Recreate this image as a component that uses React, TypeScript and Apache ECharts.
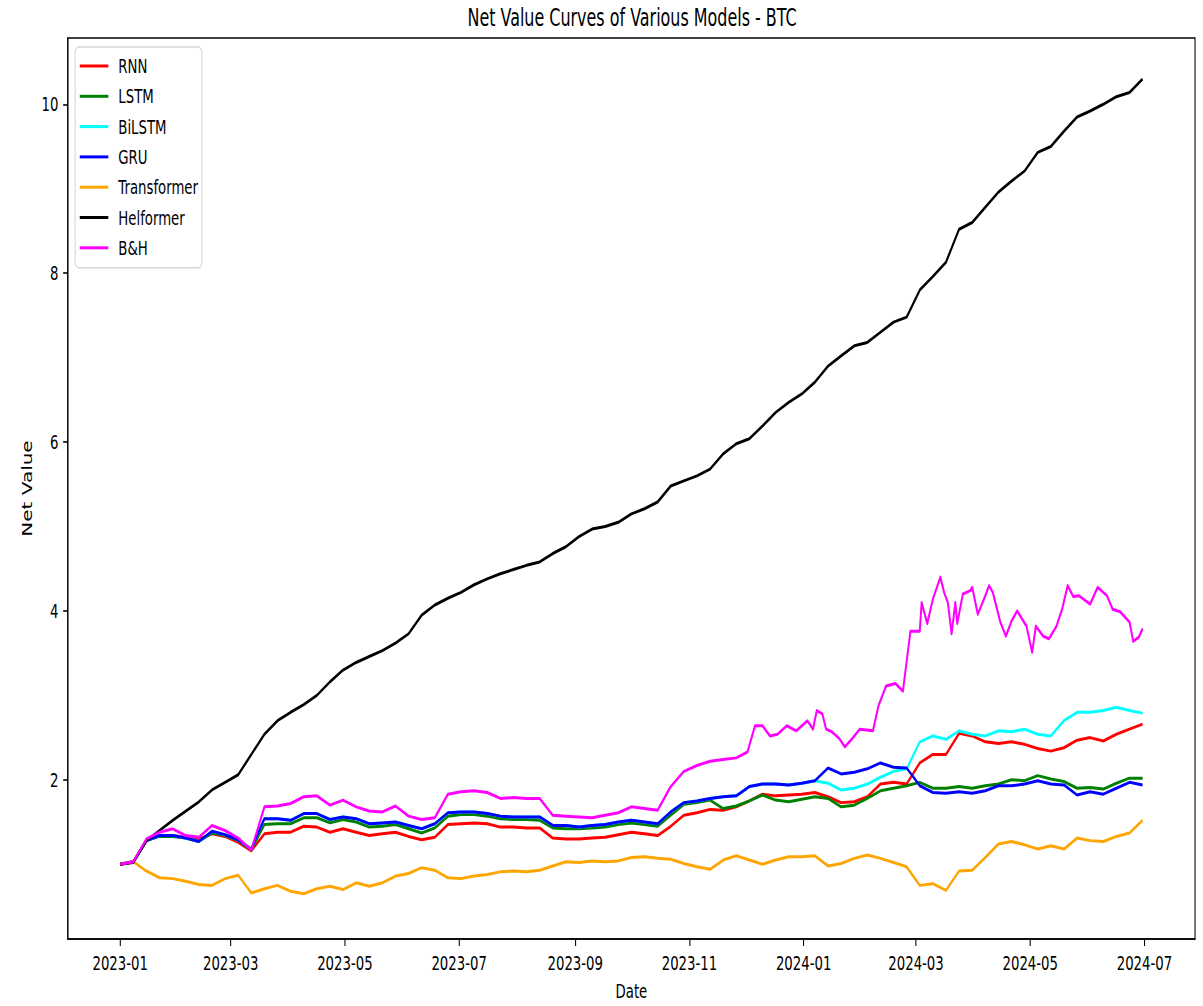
import React, { useEffect, useRef } from "react";
import * as echarts from "echarts";

// ---------- data ----------
const TITLE = "Net Value Curves of Various Models - BTC";
const SERIES_NAMES = ["RNN", "LSTM", "BiLSTM", "GRU", "Transformer", "Helformer", "B&H"];
const COLORS = ["#ff0000", "#008000", "#00ffff", "#0000ff", "#ffa500", "#000000", "#ff00ff"];
const Y_TICKS = [2, 4, 6, 8, 10];
const X_TICK_MONTHS = ["01", "03", "05", "07", "09", "11"];
const Y_MIN = 0.115;
const Y_MAX = 10.785;

// weekly samples: 2023-01-01, 2023-01-08, ... 2024-06-30 (79 points)
const DAY = 86400000;
const isoDay = (ms: number) => new Date(ms).toISOString().slice(0, 10);
const weeklyDates: string[] = Array.from({ length: 79 }, (_, k) => isoDay(Date.UTC(2023, 0, 1) + 7 * k * DAY));

const rnn = [1.00, 1.03, 1.28, 1.34, 1.34, 1.32, 1.30, 1.36, 1.33, 1.26,
  1.16, 1.36, 1.38, 1.38, 1.45, 1.44, 1.38, 1.42, 1.38, 1.34,
  1.36, 1.38, 1.33, 1.29, 1.32, 1.47, 1.48, 1.49, 1.48, 1.44,
  1.44, 1.43, 1.43, 1.31, 1.30, 1.30, 1.31, 1.32, 1.35, 1.38,
  1.36, 1.34, 1.45, 1.58, 1.61, 1.65, 1.64, 1.68, 1.75, 1.83,
  1.81, 1.82, 1.83, 1.85, 1.80, 1.73, 1.74, 1.80, 1.95, 1.97,
  1.95, 2.20, 2.30, 2.30, 2.55, 2.52, 2.45, 2.43, 2.45, 2.42,
  2.37, 2.34, 2.38, 2.47, 2.50, 2.46, 2.54, 2.60, 2.66];

const lstm = [1.00, 1.03, 1.28, 1.33, 1.33, 1.31, 1.27, 1.37, 1.34, 1.28,
  1.17, 1.47, 1.48, 1.48, 1.55, 1.55, 1.49, 1.53, 1.50, 1.44,
  1.45, 1.47, 1.42, 1.37, 1.43, 1.57, 1.59, 1.59, 1.57, 1.54,
  1.53, 1.53, 1.52, 1.43, 1.42, 1.42, 1.43, 1.44, 1.47, 1.49,
  1.47, 1.45, 1.58, 1.71, 1.73, 1.76, 1.66, 1.69, 1.75, 1.82,
  1.76, 1.74, 1.77, 1.80, 1.78, 1.68, 1.70, 1.78, 1.87, 1.90,
  1.93, 1.97, 1.90, 1.90, 1.92, 1.90, 1.93, 1.95, 2.00, 1.99,
  2.05, 2.01, 1.98, 1.90, 1.91, 1.89, 1.96, 2.02, 2.02];

const bilstm = [1.00, 1.03, 1.28, 1.34, 1.34, 1.31, 1.27, 1.39, 1.35, 1.29,
  1.18, 1.54, 1.54, 1.52, 1.60, 1.60, 1.53, 1.56, 1.54, 1.48,
  1.49, 1.50, 1.46, 1.42, 1.48, 1.61, 1.62, 1.62, 1.60, 1.57,
  1.56, 1.56, 1.56, 1.46, 1.46, 1.44, 1.46, 1.47, 1.50, 1.52,
  1.50, 1.48, 1.62, 1.73, 1.75, 1.78, 1.80, 1.81, 1.92, 1.95,
  1.95, 1.94, 1.96, 1.99, 1.96, 1.88, 1.90, 1.95, 2.03, 2.10,
  2.13, 2.45, 2.52, 2.48, 2.58, 2.54, 2.52, 2.58, 2.57, 2.60,
  2.54, 2.52, 2.70, 2.80, 2.80, 2.82, 2.86, 2.82, 2.79];

const gru = [1.00, 1.03, 1.28, 1.34, 1.34, 1.31, 1.27, 1.39, 1.35, 1.29,
  1.18, 1.54, 1.54, 1.52, 1.60, 1.60, 1.53, 1.56, 1.54, 1.48,
  1.49, 1.50, 1.46, 1.42, 1.48, 1.61, 1.62, 1.62, 1.60, 1.57,
  1.56, 1.56, 1.56, 1.46, 1.46, 1.44, 1.46, 1.47, 1.50, 1.52,
  1.50, 1.48, 1.62, 1.73, 1.75, 1.78, 1.80, 1.81, 1.92, 1.95,
  1.95, 1.94, 1.96, 1.99, 2.14, 2.07, 2.09, 2.13, 2.20, 2.15,
  2.14, 1.93, 1.85, 1.84, 1.86, 1.84, 1.87, 1.93, 1.93, 1.95,
  1.99, 1.95, 1.94, 1.82, 1.86, 1.83, 1.90, 1.97, 1.94];

const transformer = [1.00, 1.03, 0.92, 0.84, 0.83, 0.80, 0.76, 0.75, 0.83, 0.87,
  0.66, 0.71, 0.75, 0.68, 0.65, 0.71, 0.74, 0.70, 0.78, 0.74,
  0.78, 0.86, 0.89, 0.96, 0.93, 0.84, 0.83, 0.86, 0.88, 0.91,
  0.92, 0.91, 0.93, 0.98, 1.03, 1.02, 1.04, 1.03, 1.04, 1.08,
  1.09, 1.07, 1.06, 1.01, 0.97, 0.94, 1.05, 1.10, 1.05, 1.00,
  1.05, 1.09, 1.09, 1.10, 0.98, 1.01, 1.07, 1.11, 1.07, 1.02,
  0.97, 0.75, 0.77, 0.69, 0.92, 0.93, 1.08, 1.24, 1.27, 1.23,
  1.18, 1.22, 1.18, 1.31, 1.28, 1.27, 1.33, 1.37, 1.52];

const helformer = [1.00, 1.02, 1.28, 1.40, 1.52, 1.63, 1.74, 1.88, 1.97, 2.06,
  2.30, 2.54, 2.70, 2.80, 2.89, 3.00, 3.16, 3.30, 3.39, 3.46,
  3.53, 3.62, 3.73, 3.95, 4.07, 4.15, 4.22, 4.31, 4.38, 4.44,
  4.49, 4.54, 4.58, 4.68, 4.76, 4.88, 4.97, 5.00, 5.05, 5.15,
  5.21, 5.29, 5.48, 5.54, 5.60, 5.68, 5.86, 5.98, 6.04, 6.19,
  6.35, 6.47, 6.57, 6.71, 6.90, 7.02, 7.14, 7.18, 7.30, 7.42,
  7.48, 7.80, 7.96, 8.13, 8.52, 8.60, 8.78, 8.96, 9.09, 9.21,
  9.43, 9.50, 9.68, 9.85, 9.92, 10.00, 10.09, 10.14, 10.30];

// B&H: weekly up to late Nov 2023, then denser readings
const bhWeekly = [1.00, 1.03, 1.30, 1.38, 1.42, 1.34, 1.32, 1.46, 1.40, 1.31,
  1.17, 1.68, 1.69, 1.72, 1.80, 1.81, 1.70, 1.76, 1.68, 1.63,
  1.62, 1.69, 1.57, 1.53, 1.55, 1.83, 1.86, 1.87, 1.85, 1.78,
  1.79, 1.78, 1.78, 1.58, 1.57, 1.56, 1.55, 1.58, 1.61, 1.68,
  1.66, 1.64, 1.92, 2.10, 2.17, 2.22, 2.24, 2.26];
const bhLateDates = [
  "2023-12-02", "2023-12-06", "2023-12-10", "2023-12-14", "2023-12-18", "2023-12-23", "2023-12-28",
  "2024-01-03", "2024-01-06", "2024-01-08", "2024-01-11", "2024-01-13", "2024-01-16", "2024-01-20",
  "2024-01-23", "2024-01-27", "2024-01-31", "2024-02-07", "2024-02-10", "2024-02-14", "2024-02-19",
  "2024-02-23", "2024-02-27", "2024-03-03", "2024-03-04", "2024-03-07", "2024-03-10", "2024-03-14",
  "2024-03-16", "2024-03-18", "2024-03-20", "2024-03-22", "2024-03-23", "2024-03-26", "2024-03-30",
  "2024-03-31", "2024-04-03", "2024-04-07", "2024-04-09", "2024-04-11", "2024-04-15", "2024-04-18",
  "2024-04-21", "2024-04-24", "2024-04-29", "2024-05-02", "2024-05-04", "2024-05-08", "2024-05-11",
  "2024-05-15", "2024-05-18", "2024-05-21", "2024-05-24", "2024-05-27", "2024-06-02", "2024-06-06",
  "2024-06-11", "2024-06-14", "2024-06-18", "2024-06-23", "2024-06-25", "2024-06-28", "2024-06-30"];
const bhLateValues = [
  2.33, 2.64, 2.64, 2.52, 2.54, 2.64, 2.58,
  2.70, 2.60, 2.82, 2.78, 2.60, 2.57, 2.49,
  2.39, 2.49, 2.60, 2.58, 2.88, 3.11, 3.14,
  3.05, 3.76, 3.76, 4.10, 3.85, 4.14, 4.40,
  4.22, 4.10, 3.73, 4.10, 3.85, 4.20, 4.24,
  4.28, 3.96, 4.18, 4.30, 4.22, 3.87, 3.70,
  3.88, 4.00, 3.82, 3.51, 3.82, 3.70, 3.67,
  3.82, 4.02, 4.30, 4.17, 4.18, 4.08, 4.28,
  4.18, 4.02, 3.99, 3.87, 3.64, 3.69, 3.79];

// ---------- layout (chart drawn wide, then squeezed horizontally like the source image) ----------
const PAGE_W = 1203;
const PAGE_H = 1006;
const CW = 1810;
const SX = PAGE_W / CW;
const FONT = "DejaVu Sans";

// daily category axis, with margin days on both sides
const AXIS_START = Date.UTC(2022, 11, 4);
const AXIS_END = Date.UTC(2024, 6, 28);
const axisDates: string[] = [];
for (let t = AXIS_START; t <= AXIS_END; t += DAY) axisDates.push(isoDay(t));
const dateIndex = (d: string) => Math.round((Date.parse(d) - AXIS_START) / DAY);
const isTickDate = (d: string) => d.slice(8) === "01" && X_TICK_MONTHS.includes(d.slice(5, 7));

const weeklySeries = [rnn, lstm, bilstm, gru, transformer, helformer];

function buildOption() {
  const series: any[] = weeklySeries.map((vals, i) => ({
    name: SERIES_NAMES[i],
    type: "line",
    showSymbol: false,
    symbol: "none",
    data: vals.map((v, k) => [dateIndex(weeklyDates[k]), v]),
    lineStyle: { color: COLORS[i], width: 3, join: "round" },
    itemStyle: { color: COLORS[i] },
  }));
  const bhData = [
    ...bhWeekly.map((v, k) => [dateIndex(weeklyDates[k]), v]),
    ...bhLateValues.map((v, j) => [dateIndex(bhLateDates[j]), v]),
  ];
  series.push({
    name: SERIES_NAMES[6],
    type: "line",
    showSymbol: false,
    symbol: "none",
    data: bhData,
    lineStyle: { color: COLORS[6], width: 3, join: "round" },
    itemStyle: { color: COLORS[6] },
  });

  return {
    animation: false,
    backgroundColor: "#ffffff",
    textStyle: { fontFamily: FONT },
    grid: {
      left: 102,
      right: 12,
      top: 38,
      bottom: 66,
      show: true,
      borderColor: "#000",
      borderWidth: 1.6,
      backgroundColor: "transparent",
    },
    graphic: [
      {
        type: "text",
        x: 951,
        y: 18,
        style: {
          text: TITLE,
          fontSize: 24,
          fontFamily: FONT,
          fill: "#000",
          align: "center",
          verticalAlign: "middle",
        },
      },
    ],
    legend: {
      orient: "vertical",
      left: 113,
      top: 47,
      padding: [9, 6, 10, 7],
      itemWidth: 43,
      itemHeight: 3,
      itemGap: 10.3,
      icon: "rect",
      data: SERIES_NAMES,
      textStyle: { fontSize: 20, fontFamily: FONT, color: "#000", lineHeight: 20, padding: [0, 0, 0, 10] },
      borderColor: "rgba(204,204,204,0.8)",
      borderWidth: 1.6,
      borderRadius: 6,
      backgroundColor: "rgba(255,255,255,0.8)",
    },
    xAxis: {
      type: "category",
      data: axisDates,
      boundaryGap: false,
      name: "Date",
      nameLocation: "middle",
      nameGap: 42,
      nameTextStyle: { fontSize: 20, fontFamily: FONT, color: "#000" },
      axisLine: { show: true, lineStyle: { color: "#000", width: 1.6 } },
      axisTick: {
        show: true,
        length: 7,
        lineStyle: { color: "#000", width: 1.6 },
        interval: (_i: number, v: string) => isTickDate(v),
      },
      axisLabel: {
        show: true,
        margin: 14,
        fontSize: 20,
        fontFamily: FONT,
        color: "#000",
        interval: (_i: number, v: string) => isTickDate(v),
        formatter: (v: string) => v.slice(0, 7),
      },
      splitLine: { show: false },
    },
    yAxis: {
      type: "value",
      min: Y_MIN,
      max: Y_MAX,
      name: "Net Value",
      nameLocation: "middle",
      nameGap: 48,
      nameTextStyle: { fontSize: 20, fontFamily: FONT, color: "#000" },
      axisLine: { show: true, lineStyle: { color: "#000", width: 1.6 } },
      axisTick: { show: true, length: 7, lineStyle: { color: "#000", width: 1.6 }, customValues: Y_TICKS },
      axisLabel: {
        show: true,
        margin: 14,
        fontSize: 20,
        fontFamily: FONT,
        color: "#000",
        customValues: Y_TICKS,
        formatter: (v: number) => String(v),
      },
      splitLine: { show: false },
    },
    series,
  };
}

export default function App() {
  const ref = useRef<HTMLDivElement>(null);
  useEffect(() => {
    if (!ref.current) return;
    const chart = echarts.init(ref.current, null, { renderer: "svg", width: CW, height: PAGE_H });
    chart.setOption(buildOption() as any);
    return () => chart.dispose();
  }, []);
  return (
    <div
      style={{
        position: "fixed",
        left: 0,
        top: 0,
        width: PAGE_W,
        height: PAGE_H,
        overflow: "hidden",
        background: "#fff",
      }}
    >
      <div
        ref={ref}
        style={{ width: CW, height: PAGE_H, transform: `scaleX(${SX})`, transformOrigin: "0 0" }}
      />
    </div>
  );
}
